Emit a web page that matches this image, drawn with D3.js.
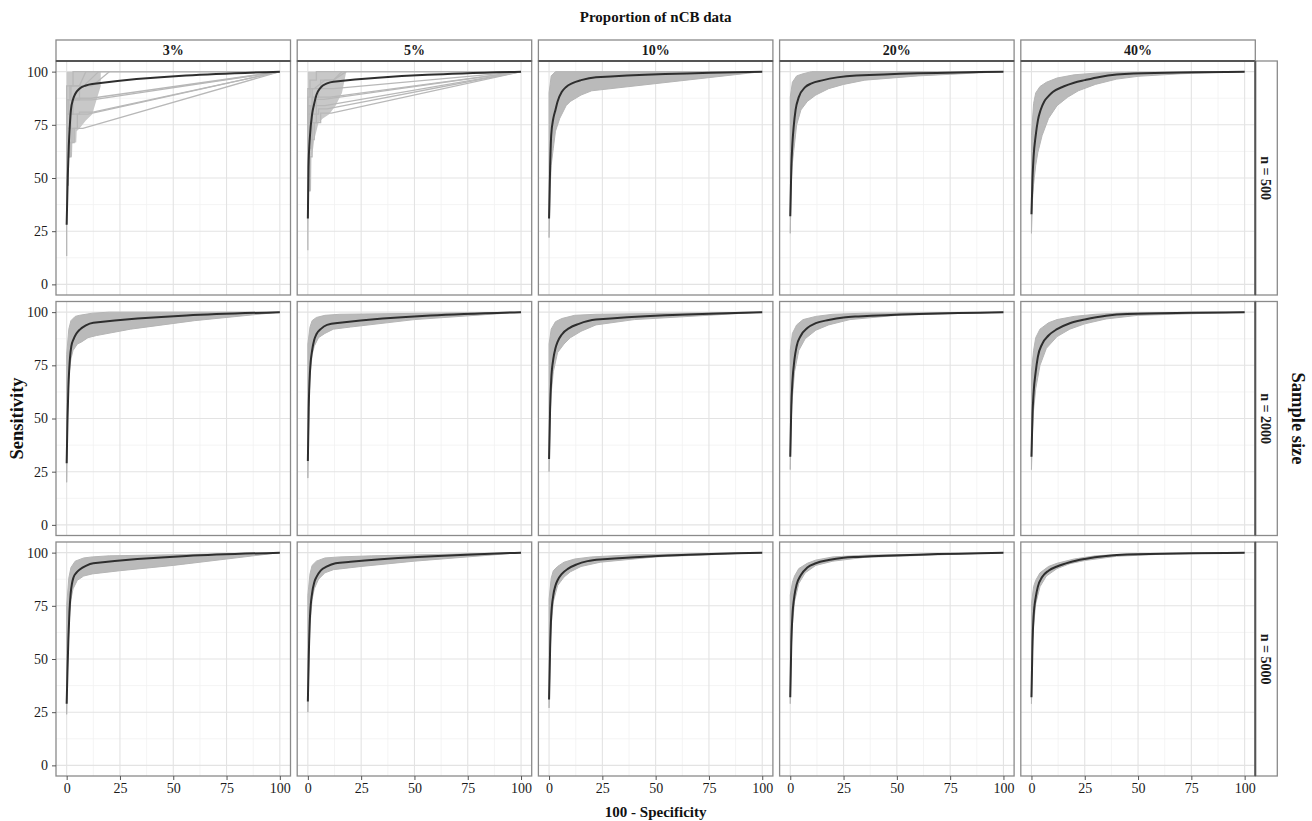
<!DOCTYPE html>
<html>
<head>
<meta charset="utf-8">
<script src="https://cdn.jsdelivr.net/npm/d3@7"></script>
<style>
  body { margin: 0; background: #fff; }
  text { font-family: "Liberation Serif", "DejaVu Serif", serif; }
</style>
</head>
<body>
<script>

const proportions = ['3%', '5%', '10%', '20%', '40%'];
const sampleSizes = ['n = 500', 'n = 2000', 'n = 5000'];
const xTicks = [0, 25, 50, 75, 100];
const yTicks = [0, 25, 50, 75, 100];
const minorTicks = [12.5, 37.5, 62.5, 87.5];

// mean ROC curve per panel, [100 - specificity, sensitivity]
const meanN500 = [
  [[0,28],[0.5,50],[1,65],[1.5,75],[2,82],[3,87],[4,89.5],[6,92],[9,93.5],[12,94.2],[100,100]],
  [[0,31],[0.3,55],[1,70],[2,80],[3,85],[4,89],[6,92.5],[9,94.5],[12,95.3],[100,100]],
  [[0,31],[0.5,55],[1,70],[2,78],[3,82],[4,86],[6,90.5],[8,92.8],[11,94.6],[15,96],[22,97.4],[100,100]],
  [[0,32],[0.5,55],[1,66],[1.6,74],[2.5,82],[4,88],[7,92.7],[10,94.5],[15,95.9],[22,97.3],[31,98.2],[100,100]],
  [[0,33],[0.5,50],[1,60],[2,70],[3,77],[4.3,82],[6,86],[8,88.5],[10,90.4],[15,93],[20,94.8],[25,96],[32,97.5],[40,98.6],[48,99.1],[100,100]]
];
const meanN2000 = [
  [[0,29],[0.4,50],[0.8,64],[1.6,79],[2.2,84],[3.2,87.2],[4.5,89.8],[6.3,91.9],[9,93.8],[12.5,95],[100,100]],
  [[0,30],[0.4,55],[1,72],[2,82],[3,87],[4,89.6],[6,92],[9,94],[15,95],[100,100]],
  [[0,31],[0.5,55],[1,68],[2,78],[3,83],[4,86],[6,89.5],[9.5,92.5],[14,94.5],[22,96.5],[100,100]],
  [[0,32],[0.5,56],[1,67],[2,78],[3,84],[5,89],[8,92.5],[12,94.8],[18,96.3],[25,97.5],[32,98],[100,100]],
  [[0,32],[0.5,52],[1,62],[2,72],[3,79],[5,85],[8,89],[12,92],[18,94.8],[25,96.5],[35,98.3],[45,99.1],[100,100]]
];
const meanN5000 = [
  [[0,29],[0.4,45],[0.8,59],[1.3,72],[1.9,81],[2.5,85.5],[3.2,88.3],[4.5,90.5],[6.3,92.2],[9,93.8],[12.5,95],[100,100]],
  [[0,30],[0.4,50],[1,70],[2,81],[3,86],[4,88.5],[6,91.5],[9,93.5],[13,95],[20,95.7],[100,100]],
  [[0,31],[0.5,55],[1,70],[2,80],[3,84.5],[4,87],[6,90],[9,92.5],[13,94.5],[18,96],[24,96.8],[100,100]],
  [[0,32],[0.5,58],[1,70],[2,80],[3,85],[5,89.5],[8,93],[12,95],[18,96.5],[25,97.6],[32,98],[100,100]],
  [[0,32],[0.5,58],[1,70],[2,79],[3,84],[5,88.5],[8,91.5],[12,93.5],[18,95.5],[25,97],[35,98.4],[45,99.1],[100,100]]
];

// spread of the replicate curves: lower and upper edge of the grey bundle
const lowerN500 = [
  [[0,13],[0.3,46.7],[1,46.7],[1.2,60],[2.5,60],[2.7,66.7],[4.5,66.7],[4.7,72],[6,73.3],[9,77],[12,80],[14,86.7],[16,93.3]],
  [[0,16],[0.3,44],[1.5,44],[1.7,60],[2.5,64],[3,68],[4,72],[5,76],[7,78],[10,80],[13,84],[16,90]],
  [[0,22],[0.5,45],[1,56],[2,64],[3,72],[5,78],[8,84],[10,86],[15,89],[20,91],[100,100]],
  [[0,24],[0.5,48],[1,57],[2,66],[3,75],[5,82],[8,86],[12,89],[18,92],[25,94],[35,96],[60,98],[100,100]],
  [[0,24],[0.5,40],[1,47],[2,56],[3,62],[5,70],[8,78],[12,84],[17,88],[22,91],[30,94],[40,96.5],[50,97.8],[70,99],[100,100]]
];
const upperN500 = [
  [[0,100],[16,100]],
  [[0,100],[18,100]],
  [[0,90],[1,98],[3,100],[100,100]],
  [[0,88],[1,95],[3,98],[6,99],[10,100],[100,100]],
  [[0,70],[1,85],[2,90],[4,93],[7,95],[12,97],[20,98.5],[30,99.3],[40,99.7],[100,100]]
];
const lowerN2000 = [
  [[0,20],[0.5,55],[1,70],[2,78],[3,82],[5,85],[7,86],[10,88],[14,89],[30,92],[60,96],[100,100]],
  [[0,22],[0.5,55],[1,70],[2,80],[3,84],[5,88],[8,90],[12,92],[20,93],[50,96.5],[100,100]],
  [[0,25],[0.5,50],[1,62],[2,72],[4,81],[7,85],[10,88],[15,91],[22,94],[40,96.5],[100,100]],
  [[0,26],[0.5,50],[1,60],[2,72],[4,82],[7,87.5],[12,91.5],[18,94],[28,96.5],[50,98.5],[100,100]],
  [[0,26],[0.5,44],[1,54],[2,64],[4,75],[7,83],[12,88.5],[18,92],[25,94.5],[35,96.8],[50,98.5],[100,100]]
];
const upperN2000 = [
  [[0,80],[1,92],[2,96],[4,98],[6,98.5],[12,99.5],[20,100],[100,100]],
  [[0,85],[1,93],[2,96],[4,97.5],[8,98.5],[15,99],[100,100]],
  [[0,85],[1,92],[3,95.5],[6,97],[12,98.5],[22,99],[100,100]],
  [[0,82],[1,90],[3,94],[6,96.5],[12,98],[20,99],[35,99.5],[100,100]],
  [[0,72],[1,82],[2,88],[4,92],[8,95],[12,96.5],[20,98],[30,99],[45,99.7],[100,100]]
];
const lowerN5000 = [
  [[0,24],[0.5,50],[1,65],[2,78],[3,83],[5,87],[8,89],[12,90],[25,91.5],[50,94],[75,97],[100,100]],
  [[0,25],[0.5,50],[1,66],[2,78],[3,83],[5,87.5],[8,90.5],[12,92],[25,93.5],[50,96],[100,100]],
  [[0,27],[0.5,52],[1,66],[2,77],[4,84.5],[7,88.5],[10,91],[15,93.5],[24,95.5],[50,98],[100,100]],
  [[0,29],[0.5,54],[1,66],[2,77],[4,85.5],[7,90.5],[12,94],[20,96],[35,97.8],[100,100]],
  [[0,29],[0.5,54],[1,66],[2,76],[4,84],[7,89],[12,92.5],[18,94.8],[25,96.3],[40,98.3],[60,99.2],[100,100]]
];
const upperN5000 = [
  [[0,75],[1,88],[2,93],[4,96],[8,97.5],[12,98],[20,98.5],[50,99],[100,100]],
  [[0,80],[1,90],[2,94],[4,96],[8,97.5],[15,98],[30,98.5],[100,100]],
  [[0,78],[1,88],[2,91.5],[4,93.5],[7,95.5],[12,97],[20,98],[40,99],[100,100]],
  [[0,80],[1,86],[2,89],[4,92.5],[8,95],[12,96.5],[20,98],[35,98.8],[100,100]],
  [[0,76],[1,84],[2,87],[4,90.5],[8,93.5],[12,95],[20,97],[30,98.5],[45,99.4],[100,100]]
];

// a few single replicate curves that stand out of the bundle (n = 500, 3% and 5%)
const replicates3 = [
  [[0,13.3],[0,46.7],[0.8,46.7],[0.8,60],[2,60],[2,66.7],[3.5,66.7],[3.5,73.3],[7.6,73.3],[100,100]],
  [[0,40],[0,60],[1.2,60],[1.2,66.7],[2.5,66.7],[2.5,73.3],[5,73.3],[5,80],[10,80],[100,100]],
  [[0,53.3],[0,73.3],[1.5,73.3],[1.5,80],[3,80],[3,86.7],[12,86.7],[100,100]],
  [[0,60],[0,80],[1,80],[1,86.7],[4,86.7],[4,87.5],[11.5,87.5],[100,100]],
  [[0,46.7],[0,73.3],[2,73.3],[2,80],[6,80],[6,81],[12.3,81],[100,100]],
  [[0,66.7],[0,86.7],[2,86.7],[2,93.3],[6,93.3],[9,100],[100,100]],
  [[0,73.3],[0,93.3],[3,93.3],[3,100],[100,100]],
  [[0,60],[0,86.7],[1.5,86.7],[1.5,93.3],[8,93.3],[15,100],[100,100]],
  [[0,46.7],[0,80],[2.5,80],[2.5,86.7],[6,86.7],[6,93.3],[12,93.3],[20,100]]
];
const replicates5 = [
  [[0,16],[0,44],[1,44],[1,60],[2,60],[2,68],[3,68],[3,76],[6,76],[6,80.5],[11,80.5],[100,100]],
  [[0,32],[0,64],[1.5,64],[1.5,76],[4,76],[4,84],[8,84],[100,100]],
  [[0,40],[0,72],[1,72],[1,84],[3,84],[3,88],[10.5,88],[100,100]],
  [[0,48],[0,80],[2,80],[2,88],[5,88],[5,92],[12,92],[100,100]],
  [[0,44],[0,76],[1.5,76],[1.5,84],[4,84],[4,87],[7.5,87],[100,100]],
  [[0,52],[0,84],[2,84],[2,92],[6,92],[6,96],[12,96],[16,100],[100,100]],
  [[0,56],[0,88],[1,88],[1,96],[4,96],[4,100],[100,100]],
  [[0,36],[0,68],[2,68],[2,80],[5,80],[5,82.5],[9,82.5],[100,100]],
  [[0,60],[0,92],[3,92],[8,96],[12,96],[18,100]]
];

const meanCurves = [meanN500, meanN2000, meanN5000];
const lowerEdges = [lowerN500, lowerN2000, lowerN5000];
const upperEdges = [upperN500, upperN2000, upperN5000];
const replicateCurves = [[replicates3, replicates5, [], [], []], [[], [], [], [], []], [[], [], [], [], []]];


const width = 1312, height = 821;
const panelW = 234.5, panelH = 234;
const colX = proportions.map((_, i) => 56 + i * 241.2);
const rowY = [61, 301.5, 542];
const stripH = 21, stripW = 22;

const svg = d3.select('body').append('svg')
  .attr('width', width)
  .attr('height', height);

const x = d3.scaleLinear().domain([-5, 105]).range([0, panelW]);
const y = d3.scaleLinear().domain([-5, 105]).range([panelH, 0]);

const line = d3.line().x(d => x(d[0])).y(d => y(d[1]));
const smoothLine = d3.line().curve(d3.curveMonotoneX).x(d => x(d[0])).y(d => y(d[1]));

sampleSizes.forEach((size, r) => {
  proportions.forEach((prop, c) => {
    const g = svg.append('g')
      .attr('transform', `translate(${colX[c]}, ${rowY[r]})`);
    const clipId = `clip-${r}-${c}`;
    g.append('clipPath').attr('id', clipId)
      .append('rect').attr('width', panelW).attr('height', panelH);

    g.append('rect')
      .attr('width', panelW).attr('height', panelH)
      .attr('fill', '#fff');

    // grid
    g.selectAll('.minor-x').data(minorTicks).enter().append('line')
      .attr('x1', d => x(d)).attr('x2', d => x(d))
      .attr('y1', 0).attr('y2', panelH)
      .attr('stroke', '#f1f1f1').attr('stroke-width', 0.8);
    g.selectAll('.minor-y').data(minorTicks).enter().append('line')
      .attr('y1', d => y(d)).attr('y2', d => y(d))
      .attr('x1', 0).attr('x2', panelW)
      .attr('stroke', '#f1f1f1').attr('stroke-width', 0.8);
    g.selectAll('.major-x').data(xTicks).enter().append('line')
      .attr('x1', d => x(d)).attr('x2', d => x(d))
      .attr('y1', 0).attr('y2', panelH)
      .attr('stroke', '#e3e3e3').attr('stroke-width', 1.1);
    g.selectAll('.major-y').data(yTicks).enter().append('line')
      .attr('y1', d => y(d)).attr('y2', d => y(d))
      .attr('x1', 0).attr('x2', panelW)
      .attr('stroke', '#e3e3e3').attr('stroke-width', 1.1);

    const plot = g.append('g').attr('clip-path', `url(#${clipId})`);

    // grey bundle of replicate curves
    const reps = replicateCurves[r][c];
    const band = upperEdges[r][c].concat(lowerEdges[r][c].slice().reverse());
    plot.append('path')
      .attr('d', line(band) + 'Z')
      .attr('fill', reps.length ? '#c8c8c8' : '#bababa')
      .attr('stroke', '#b5b5b5')
      .attr('stroke-width', reps.length ? 0 : 1)
      .attr('stroke-linejoin', 'round');

    plot.selectAll('.rep').data(reps).enter().append('path')
      .attr('d', d => line(d))
      .attr('fill', 'none')
      .attr('stroke', '#b8b8b8')
      .attr('stroke-width', 1.3);

    plot.append('path')
      .attr('d', smoothLine(meanCurves[r][c]))
      .attr('fill', 'none')
      .attr('stroke', '#2e2e2e')
      .attr('stroke-width', 2);

    g.append('rect')
      .attr('width', panelW).attr('height', panelH)
      .attr('fill', 'none')
      .attr('stroke', '#8a8a8a').attr('stroke-width', 1.3);

    if (c === 0) {
      const ax = g.append('g')
        .call(d3.axisLeft(y).tickValues(yTicks).tickSize(4).tickPadding(4));
      styleAxis(ax);
    }
    if (r === sampleSizes.length - 1) {
      const ax = g.append('g')
        .attr('transform', `translate(0, ${panelH})`)
        .call(d3.axisBottom(x).tickValues(xTicks).tickSize(4).tickPadding(3));
      styleAxis(ax);
    }

    if (r === 0) {
      svg.append('rect')
        .attr('x', colX[c]).attr('y', rowY[0] - stripH)
        .attr('width', panelW).attr('height', stripH)
        .attr('fill', '#fff').attr('stroke', '#8a8a8a').attr('stroke-width', 1.3);
      svg.append('line')
        .attr('x1', colX[c]).attr('x2', colX[c] + panelW)
        .attr('y1', rowY[0]).attr('y2', rowY[0])
        .attr('stroke', '#555').attr('stroke-width', 2);
      svg.append('text')
        .attr('x', colX[c] + panelW / 2).attr('y', rowY[0] - stripH / 2)
        .attr('dy', '0.35em')
        .attr('text-anchor', 'middle')
        .style('font-size', '14px').style('font-weight', 'bold')
        .attr('fill', '#1a1a1a')
        .text(prop);
    }
    if (c === proportions.length - 1) {
      const sx = colX[c] + panelW;
      svg.append('rect')
        .attr('x', sx).attr('y', rowY[r])
        .attr('width', stripW).attr('height', panelH)
        .attr('fill', '#fff').attr('stroke', '#8a8a8a').attr('stroke-width', 1.3);
      svg.append('line')
        .attr('x1', sx).attr('x2', sx)
        .attr('y1', rowY[r]).attr('y2', rowY[r] + panelH)
        .attr('stroke', '#555').attr('stroke-width', 2);
      svg.append('text')
        .attr('transform', `translate(${sx + stripW / 2}, ${rowY[r] + panelH / 2}) rotate(90)`)
        .attr('dy', '0.35em')
        .attr('text-anchor', 'middle')
        .style('font-size', '14px').style('font-weight', 'bold')
        .attr('fill', '#1a1a1a')
        .text(size);
    }
  });
});

function styleAxis(ax) {
  ax.select('.domain').remove();
  ax.selectAll('.tick line').attr('stroke', '#555');
  ax.selectAll('.tick text')
    .style('font-family', '"Liberation Serif", serif')
    .style('font-size', '14px')
    .attr('fill', '#1a1a1a');
}

const panelsLeft = colX[0];
const panelsRight = colX[proportions.length - 1] + panelW;
const panelsTop = rowY[0];
const panelsBottom = rowY[2] + panelH;

svg.append('text')
  .attr('x', (panelsLeft + panelsRight) / 2).attr('y', 22)
  .attr('text-anchor', 'middle')
  .style('font-size', '15px').style('font-weight', 'bold')
  .attr('fill', '#111')
  .text('Proportion of nCB data');

svg.append('text')
  .attr('x', (panelsLeft + panelsRight) / 2).attr('y', 817)
  .attr('text-anchor', 'middle')
  .style('font-size', '15px').style('font-weight', 'bold')
  .attr('fill', '#111')
  .text('100 - Specificity');

svg.append('text')
  .attr('transform', `translate(17, ${(panelsTop + panelsBottom) / 2}) rotate(-90)`)
  .attr('dy', '0.35em')
  .attr('text-anchor', 'middle')
  .style('font-size', '18.5px').style('font-weight', 'bold')
  .attr('fill', '#111')
  .text('Sensitivity');

svg.append('text')
  .attr('transform', `translate(1298, ${(panelsTop + panelsBottom) / 2}) rotate(90)`)
  .attr('dy', '0.35em')
  .attr('text-anchor', 'middle')
  .style('font-size', '18.5px').style('font-weight', 'bold')
  .attr('fill', '#111')
  .text('Sample size');

</script>
</body>
</html>
